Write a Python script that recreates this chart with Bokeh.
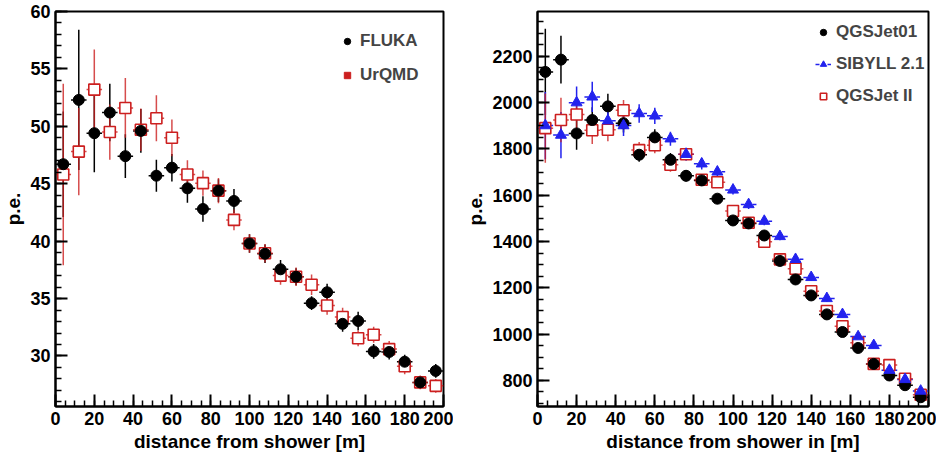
import numpy as np
from bokeh.plotting import figure
from bokeh.layouts import row
from bokeh.models import Range1d, Legend, LegendItem, FixedTicker
from bokeh.embed import file_html
from bokeh.resources import INLINE

# ---------------- data ----------------
distance = [4, 12, 20, 28, 36, 44, 52, 60, 68, 76, 84, 92, 100, 108, 116, 124,
            132, 140, 148, 156, 164, 172, 180, 188, 196]
bin_half = [4] * 25

fluka = [46.7, 52.3, 49.4, 51.2, 47.4, 49.6, 45.7, 46.4, 44.6, 42.8, 44.4, 43.5,
         39.8, 38.9, 37.55, 36.9, 34.6, 35.55, 32.8, 33.05, 30.4, 30.35, 29.5, 27.7, 28.7]
fluka_err = [4.6, 6.1, 3.4, 2.5, 1.9, 1.9, 1.4, 1.2, 1.25, 1.1, 1.0, 1.05,
             0.8, 0.8, 0.8, 0.75, 0.6, 0.75, 0.7, 0.8, 0.65, 0.65, 0.6, 0.5, 0.6]
urqmd = [45.8, 47.8, 53.2, 49.5, 51.6, 49.7, 50.7, 49.0, 45.8, 45.05, 44.4, 41.85,
         39.8, 38.95, 37.0, 36.9, 36.2, 34.4, 33.4, 31.55, 31.85, 30.6, 29.1, 27.7, 27.4]
urqmd_err = [7.9, 3.8, 3.5, 2.4, 2.6, 1.85, 2.0, 1.6, 1.25, 1.1, 1.1, 0.9,
             0.8, 0.8, 0.8, 0.8, 0.9, 0.8, 0.8, 0.7, 0.7, 0.7, 0.7, 0.6, 0.6]

qgsjet01 = [2133, 2186, 1867, 1925, 1984, 1911, 1775, 1850, 1753, 1684, 1664, 1585,
            1491, 1478, 1426, 1316, 1236, 1167, 1085, 1009, 940, 871, 821, 779, 727]
qgsjet01_err = [186, 103, 70, 55, 55, 40, 30, 35, 30, 25, 20, 20,
                18, 18, 16, 15, 15, 14, 13, 13, 12, 12, 11, 11, 10]
sibyll = [1901, 1860, 2000, 2025, 1922, 1901, 1953, 1943, 1844, 1777, 1736, 1701,
          1623, 1560, 1488, 1422, 1323, 1245, 1154, 1085, 989, 951, 844, 804, 754]
sibyll_err = [145, 100, 70, 65, 55, 45, 40, 35, 30, 28, 25, 22,
              20, 19, 18, 17, 16, 15, 14, 13, 13, 12, 12, 11, 11]
qgsjet2 = [1890, 1925, 1949, 1881, 1883, 1967, 1795, 1816, 1732, 1777, 1667, 1656,
           1532, 1481, 1399, 1323, 1282, 1185, 1100, 1034, 962, 871, 866, 807, 738]
qgsjet2_err = [150, 96, 70, 60, 50, 45, 35, 35, 30, 25, 22, 20,
               18, 18, 16, 15, 15, 14, 13, 13, 12, 12, 11, 11, 10]

x_ticks = [0, 20, 40, 60, 80, 100, 120, 140, 160, 180, 200]
x_minor = list(range(0, 201, 5))
left_y_ticks = [30, 35, 40, 45, 50, 55, 60]
left_y_minor = list(range(26, 61))
right_y_ticks = [800, 1000, 1200, 1400, 1600, 1800, 2000, 2200]
right_y_minor = list(range(700, 2400, 50))

RED = "#cc1f1f"
BLUE = "#2222ee"
FONT = "Liberation Sans"

x = np.array(distance, dtype=float)
xe = np.array(bin_half, dtype=float)


def style(p, yticks, yminor, xlabel):
    p.xaxis.ticker = FixedTicker(ticks=x_ticks, minor_ticks=x_minor)
    p.yaxis.ticker = FixedTicker(ticks=yticks, minor_ticks=yminor)
    p.grid.visible = False
    p.outline_line_color = "black"
    p.outline_line_width = 2
    for ax in (p.xaxis[0], p.yaxis[0]):
        ax.axis_line_width = 2
        ax.axis_line_color = "black"
        ax.major_tick_in = 12
        ax.major_tick_out = 0
        ax.minor_tick_in = 6
        ax.minor_tick_out = 0
        ax.major_tick_line_width = 2
        ax.minor_tick_line_width = 1.5
        ax.major_label_text_font = FONT
        ax.major_label_text_font_style = "bold"
        ax.major_label_text_font_size = "18px"
        ax.major_label_text_color = "black"
        ax.axis_label_text_font = FONT
        ax.axis_label_text_font_style = "bold"
        ax.axis_label_text_font_size = "19px"
        ax.axis_label_text_color = "black"
        ax.major_label_standoff = 5
        ax.axis_label_standoff = 3
    p.xaxis.axis_label = xlabel
    p.yaxis.axis_label = "p.e."


def errbars(p, y, ye, color, alpha=1.0, hdash="solid"):
    y = np.array(y, dtype=float)
    ye = np.array(ye, dtype=float)
    h = p.segment(x0=x - xe, y0=y, x1=x + xe, y1=y, line_color=color,
                  line_width=1.5, line_alpha=alpha, line_dash=hdash)
    v = p.segment(x0=x, y0=y - ye, x1=x, y1=y + ye, line_color=color,
                  line_width=1.5, line_alpha=alpha)
    return h, v


# ---------------- left panel ----------------
p1 = figure(width=453, height=454, output_backend="svg", toolbar_location=None,
            x_range=Range1d(0, 200), y_range=Range1d(25.6, 60),
            min_border_left=46, min_border_right=10, min_border_top=11,
            min_border_bottom=46, background_fill_color="white",
            border_fill_color="white")
style(p1, left_y_ticks, left_y_minor, "distance from shower [m]")

errbars(p1, fluka, fluka_err, "black")
errbars(p1, urqmd, urqmd_err, RED, alpha=0.8)
sq1 = p1.scatter(x, urqmd, marker="square", size=11, line_color=RED,
                 fill_color="white", line_width=1.6)
c1 = p1.scatter(x, fluka, marker="circle", size=11, color="black")
sq1_leg = p1.scatter(x=[np.nan], y=[np.nan], marker="square", size=11, color=RED)

leg1 = Legend(items=[LegendItem(label="FLUKA", renderers=[c1]),
                     LegendItem(label="UrQMD", renderers=[sq1_leg])],
              location=(284, 321), padding=0, margin=0, spacing=14,
              glyph_width=16, glyph_height=16, label_height=16,
              label_standoff=5, border_line_color=None,
              background_fill_alpha=0, label_text_font=FONT,
              label_text_font_style="bold", label_text_font_size="17px")
p1.add_layout(leg1)

# ---------------- right panel ----------------
p2 = figure(width=483, height=454, output_backend="svg", toolbar_location=None,
            x_range=Range1d(0, 200), y_range=Range1d(687, 2394),
            min_border_left=84, min_border_right=8, min_border_top=11,
            min_border_bottom=46, background_fill_color="white",
            border_fill_color="white")
style(p2, right_y_ticks, right_y_minor, "distance from shower in [m]")

errbars(p2, qgsjet01, qgsjet01_err, "black")
sh, sv = errbars(p2, sibyll, sibyll_err, BLUE, hdash="4 2")
errbars(p2, qgsjet2, qgsjet2_err, RED, alpha=0.8)
sq2 = p2.scatter(x, qgsjet2, marker="square", size=11, line_color=RED,
                 fill_color="white", line_width=1.6)
c2 = p2.scatter(x, qgsjet01, marker="circle", size=11, color="black")
t2 = p2.scatter(x, sibyll, marker="triangle", size=11, color=BLUE)

leg2 = Legend(items=[LegendItem(label="QGSJet01", renderers=[c2]),
                     LegendItem(label="SIBYLL 2.1", renderers=[sh, t2]),
                     LegendItem(label="QGSJet II", renderers=[sq2])],
              location=(278, 300), padding=0, margin=0, spacing=12,
              glyph_width=16, glyph_height=16, label_height=16,
              label_standoff=5, border_line_color=None,
              background_fill_alpha=0, label_text_font=FONT,
              label_text_font_style="bold", label_text_font_size="17px")
p2.add_layout(leg2)

layout = row(p1, p2)
open("out.html", "w").write(file_html(layout, INLINE))
